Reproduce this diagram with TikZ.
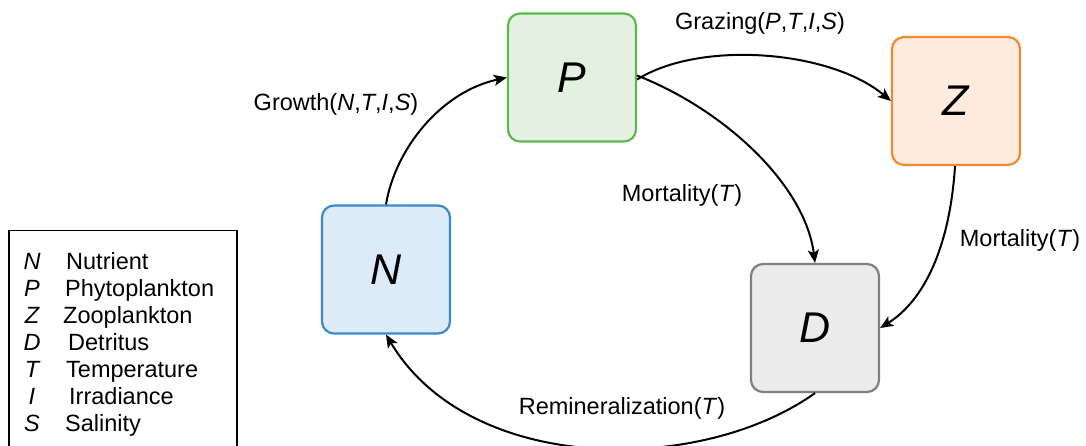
\documentclass[tikz,border=0pt]{standalone}
\usepackage{fontspec}
\setmainfont{Liberation Sans}
\usetikzlibrary{arrows.meta}
\definecolor{pfill}{HTML}{E3F2E0}
\definecolor{pdraw}{HTML}{5DB84B}
\definecolor{zfill}{HTML}{FDEBDD}
\definecolor{zdraw}{HTML}{EE8B2D}
\definecolor{nfill}{HTML}{DDEAF7}
\definecolor{ndraw}{HTML}{3B88D0}
\definecolor{dfill}{HTML}{EBEBEB}
\definecolor{ddraw}{HTML}{808080}
\begin{document}
\begin{tikzpicture}[x=1pt,y=-1pt,
  box/.style={rectangle, rounded corners=12pt, line width=2.2pt, minimum width=128pt, minimum height=128pt, inner sep=0pt, font=\fontsize{43}{48}\selectfont\itshape},
  flow/.style={line width=2pt, -{Stealth[length=13pt,width=11pt,inset=3pt]}},
  lab/.style={font=\fontsize{23.5}{28}\selectfont, inner sep=0pt},
  legsym/.style={font=\fontsize{23.5}{28}\selectfont\itshape, inner sep=0pt, anchor=base},
  legtxt/.style={font=\fontsize{23.5}{28}\selectfont, inner sep=0pt, anchor=base west}]
\useasboundingbox (0,0) rectangle (1086,446);
% boxes
\node[box, fill=pfill, draw=pdraw] (P) at (572,77.5) {P};
\node[box, fill=zfill, draw=zdraw] (Z) at (956,101) {Z};
\node[box, fill=nfill, draw=ndraw] (N) at (386,269.5) {N};
\node[box, fill=dfill, draw=ddraw] (D) at (815,328) {D};
% flows
\draw[flow] (N.north) .. controls (395,150) and (440,92) .. (P.west);
\draw[flow] ([yshift=-2pt]P.east) .. controls (700,40) and (830,50) .. (Z.west);
\draw[flow] ([yshift=2pt]P.east) .. controls (725,110) and (805,185) .. (D.north);
\draw[flow] ([xshift=-1pt]Z.south) .. controls (950,245) and (925,300) .. (D.east);
\draw[flow] (D.south) .. controls (700,475) and (470,475) .. (N.south);
% labels
\node[lab] (lgrowth) at (336,104) {Growth(\textit{N},\textit{T},\textit{I},\textit{S})};
\node[lab] (lgraz) at (760,23) {Grazing(\textit{P},\textit{T},\textit{I},\textit{S})};
\node[lab] (lmortp) at (682,195) {Mortality(\textit{T})};
\node[lab] (lmortz) at (1020,240) {Mortality(\textit{T})};
\node[lab] (lremin) at (622,408) {Remineralization(\textit{T})};
% legend
\node[draw, line width=1.5pt, anchor=north west, minimum width=228pt, minimum height=240pt] (legend) at (8,230) {};
\node[legsym] (sN) at (32,269.5) {N};
\node[legsym] (sP) at (32,296.5) {P};
\node[legsym] (sZ) at (32,323.5) {Z};
\node[legsym] (sD) at (32,350.5) {D};
\node[legsym] (sT) at (32,377.5) {T};
\node[legsym] (sI) at (32,404.5) {I};
\node[legsym] (sS) at (32,431.5) {S};
\node[legtxt] (tN) at (66,269.5) {Nutrient};
\node[legtxt] (tP) at (65,296.5) {Phytoplankton};
\node[legtxt] (tZ) at (63,323.5) {Zooplankton};
\node[legtxt] (tD) at (68,350.5) {Detritus};
\node[legtxt] (tT) at (66,377.5) {Temperature};
\node[legtxt] (tI) at (69,404.5) {Irradiance};
\node[legtxt] (tS) at (65,431.5) {Salinity};
\end{tikzpicture}
\end{document}
